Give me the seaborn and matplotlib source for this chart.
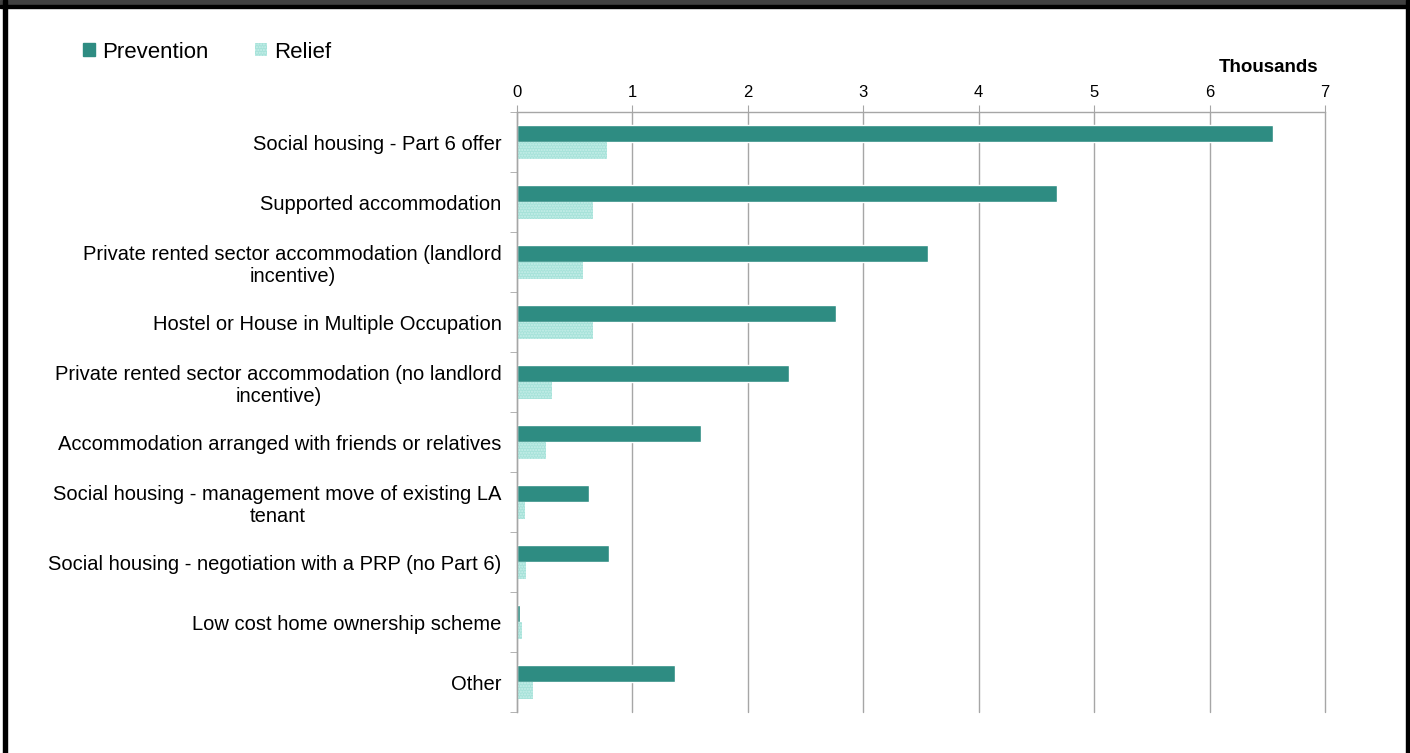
import numpy as np
import pandas as pd
import matplotlib
matplotlib.use('Agg')
import matplotlib.pyplot as plt
import seaborn as sns
from matplotlib.patches import Rectangle

# data (thousands)
categories = [
    'Social housing - Part 6 offer',
    'Supported accommodation',
    'Private rented sector accommodation (landlord\nincentive)',
    'Hostel or House in Multiple Occupation',
    'Private rented sector accommodation (no landlord\nincentive)',
    'Accommodation arranged with friends or relatives',
    'Social housing - management move of existing LA\ntenant',
    'Social housing - negotiation with a PRP (no Part 6)',
    'Low cost home ownership scheme',
    'Other',
]
prevention = [6.55, 4.68, 3.56, 2.76, 2.36, 1.59, 0.62, 0.80, 0.03, 1.37]
relief = [0.78, 0.66, 0.57, 0.66, 0.30, 0.25, 0.07, 0.08, 0.04, 0.14]
series = ['Prevention', 'Relief']
x_ticks = [0, 1, 2, 3, 4, 5, 6, 7]

df = pd.DataFrame({
    'Category': categories * 2,
    'Value': prevention + relief,
    'Type': [series[0]] * len(categories) + [series[1]] * len(categories),
})

sns.set_style('white')
plt.rcParams['font.family'] = ['Liberation Sans', 'DejaVu Sans']
plt.rcParams['text.color'] = 'black'
plt.rcParams['xtick.color'] = 'black'
plt.rcParams['ytick.color'] = 'black'

fig = plt.figure(figsize=(14.1, 7.53), dpi=100)
ax = fig.add_axes([517 / 1410, 1 - 712 / 753, (1325 - 517) / 1410, (712 - 112) / 753])

colors = {'Prevention': '#2E8C82', 'Relief': '#A6E2D9'}
sns.barplot(data=df, x='Value', y='Category', hue='Type', orient='h',
            palette=colors, width=0.57, ax=ax, legend=False, saturation=1)

# dotted texture on relief bars
for bar in ax.containers[1]:
    bar.set_hatch('......')
    bar.set_edgecolor('#C8EFEA')
    bar.set_linewidth(0)

grid_col = '#A6A6A6'
ax.set_xlim(0, 7)
ax.set_ylim(len(categories) - 0.5, -0.5)
ax.set_xticks(x_ticks)
ax.xaxis.tick_top()
ax.set_xlabel('')
ax.set_ylabel('')
ax.tick_params(axis='x', labelsize=12, length=5, color=grid_col, pad=4)
ax.tick_params(axis='y', labelsize=14.5, length=0, pad=16)
ax.set_yticks(range(len(categories)))
ax.set_yticklabels(categories, ha='right', multialignment='center', linespacing=1.2)
ax.set_yticks(np.arange(-0.5, len(categories), 1), minor=True)
ax.tick_params(axis='y', which='minor', length=5, color=grid_col, left=True)
ax.tick_params(axis='y', which='major', pad=11)
ax.grid(axis='x', color=grid_col, linewidth=1.0)
for gl in ax.get_xgridlines():
    gl.set_clip_on(False)
ax.set_axisbelow(True)
for s in ['right', 'bottom']:
    ax.spines[s].set_visible(False)
for s in ['top', 'left']:
    ax.spines[s].set_color(grid_col)
    ax.spines[s].set_linewidth(1.0)

ax.text(1318 / 1410, 1 - 67 / 753, 'Thousands', transform=fig.transFigure, ha='right',
        va='center', fontsize=13.5, fontweight='bold')

# legend
handles = [Rectangle((0, 0), 1, 1, color=colors['Prevention']),
           Rectangle((0, 0), 1, 1, facecolor=colors['Relief'], hatch='......',
                     edgecolor='#C8EFEA', linewidth=0)]
fig.legend(handles, series, loc='center left', bbox_to_anchor=(63 / 1410, 1 - 52 / 753),
           ncol=2, frameon=False, fontsize=16, handlelength=0.55, handleheight=0.55,
           handletextpad=0.3, columnspacing=2.1)

# frame around the figure
fig.patches.append(Rectangle((0, 1 - 5 / 753), 1, 5 / 753, transform=fig.transFigure,
                             color='#404040', zorder=10))
fig.patches.append(Rectangle((0, 1 - 8 / 753), 1, 3 / 753, transform=fig.transFigure,
                             color='black', zorder=10))
fig.patches.append(Rectangle((3 / 1410, 0), 4 / 1410, 1, transform=fig.transFigure,
                             color='black', zorder=10))
fig.patches.append(Rectangle((1406 / 1410, 0), 4 / 1410, 1, transform=fig.transFigure,
                             color='black', zorder=10))

fig.savefig('out.png', dpi=100)
